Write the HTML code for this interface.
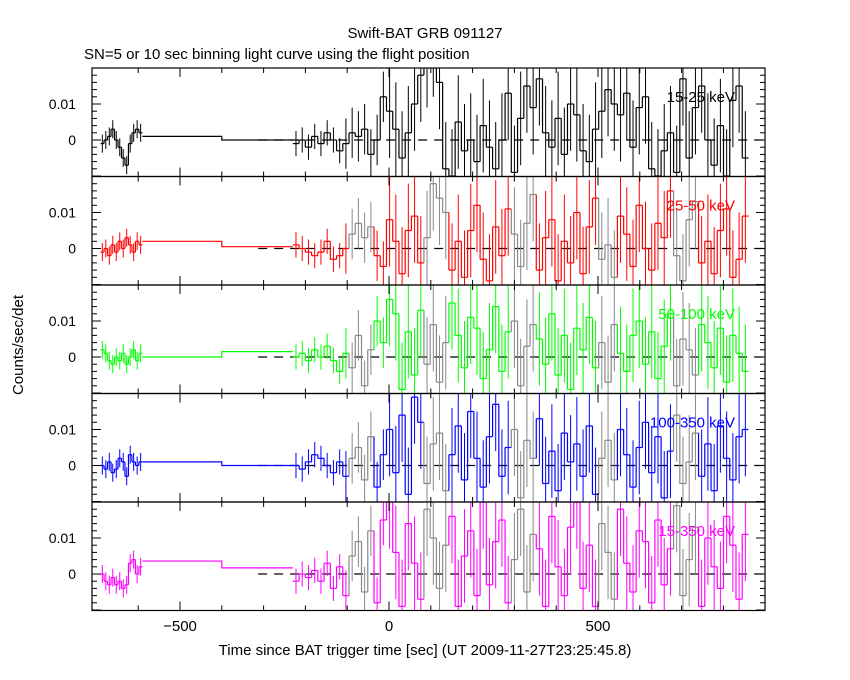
<!DOCTYPE html>
<html><head><meta charset="utf-8"><style>
body{margin:0;background:#fff;}
svg{display:block;font-family:"Liberation Sans",sans-serif;}
</style></head><body>
<svg id="c" width="850" height="680" viewBox="0 0 850 680" xmlns="http://www.w3.org/2000/svg">
<rect width="850" height="680" fill="#fff"/>
<text x="425" y="38" font-size="15" text-anchor="middle">Swift-BAT GRB 091127</text>
<text x="84" y="59" font-size="15">SN=5 or 10 sec binning light curve using the flight position</text>
<text x="425" y="655" font-size="15" text-anchor="middle">Time since BAT trigger time [sec] (UT 2009-11-27T23:25:45.8)</text>
<text x="0" y="0" font-size="15" text-anchor="middle" transform="translate(23,345) rotate(-90)">Counts/sec/det</text>
<g id="plots"></g>
</svg>
<script>
const bands=["15-25 keV","25-50 keV","50-100 keV","100-350 keV","15-350 keV"];
const colors=["#000","#f00","#0f0","#00f","#f0f"];
const leftVals=[
[-1,0,1,3,0,-2,-5,-7,-1,2,3,2],
[-1,0,-2,1,-1,2,0,3,1,-1,2,1],
[2,1,-1,-2,0,-1,1,-2,0,2,-1,1],
[0,-1,1,-2,-1,2,1,-3,3,1,0,1],
[0,-2,-3,-1,-3,-2,-4,-3,3,4,0,2]];
const flat1=[1,2,0,1,3.6];
const flat2=[0,0.5,1.5,0,1.7];
const rightVals=[
[-1,0,-2,1,-1,2,0,-3,-1,2,1,3,-4,0,12,8,3,-5,2,10,18,22,25,16,-8,-10,5,-3,0,-6,4,-2,-8,0,13,-9,6,15,9,17,2,-2,6,-4,10,7,-3,-6,3,8,14,10,7,13,-2,9,12,-8,-10,-3,2,-9,17,-5,9,15,0,-7,4,-10,11,15,-5],
[1,0,-1,-2,-1,2,-3,-2,0,4,7,3,6,-2,-5,8,2,-7,5,9,-4,3,18,14,10,-6,2,-8,5,12,-3,-9,6,-2,11,4,-5,7,15,-6,3,8,-9,2,-4,10,-7,6,14,-3,1,-8,9,4,-5,12,0,-6,7,3,16,-2,-9,8,13,-4,2,-7,5,11,-8,-3,9],
[0,1,-1,2,0,3,-1,-4,1,-3,6,-8,2,10,4,16,12,-9,7,-5,13,-2,9,-7,4,15,6,-3,11,8,-6,2,14,-4,7,10,-8,3,9,5,-2,12,-5,6,-9,8,2,11,-3,4,-7,9,1,-4,6,10,-2,7,-6,3,12,-8,5,2,-5,9,4,-3,8,-7,6,1,-4],
[0,-1,1,3,2,0,-2,1,-3,2,5,-4,8,-6,3,10,-2,14,-8,19,12,-5,6,9,-7,3,11,-4,15,2,-6,8,17,-3,5,10,-9,7,2,13,-5,4,-7,9,1,6,-3,11,-8,2,7,-4,10,3,-6,5,12,-2,8,-9,4,14,-5,1,9,-3,6,-7,11,2,-4,8,10],
[-2,0,-1,1,-2,3,-4,2,-6,5,9,-5,12,-8,15,20,6,-9,14,3,-7,18,10,-4,8,16,-9,5,12,-6,20,-3,9,15,-8,4,18,-5,11,7,-9,16,2,-6,13,20,-4,8,-9,14,6,-7,18,3,-5,12,9,-8,15,-3,7,19,-6,4,13,-9,10,2,-4,16,8,-7,11]];
const grayRanges=[[-100,-40],[80,130],[280,340],[500,545],[680,740]];
const yTicks=[0,10];
const yTickLabels=["0","0.01"];
const xTicks=[-500,0,500];

const X0=92,X1=765,TOP=68,PH=108.5;
const xs=t=>389+t*0.418;
const g=document.getElementById('plots');
const NS="http://www.w3.org/2000/svg";
function mk(tag,a,parent){const e=document.createElementNS(NS,tag);for(const k in a)e.setAttribute(k,a[k]);(parent||g).appendChild(e);return e;}
const errR=t=>t<-120?3.5:(t<-20?7:13);
for(let p=0;p<5;p++){
  const T=TOP+p*PH,B=T+PH;
  const ys=v=>T+72-v*3.6;
  const grp=mk('g',{});
  
  
  const cid='clip'+p;
  const cp=mk('clipPath',{id:cid},grp);mk('rect',{x:X0,y:T,width:X1-X0,height:PH},cp);
  const dg=mk('g',{'clip-path':'url(#'+cid+')'},grp);
  const z=mk('line',{x1:xs(-313),x2:X1,y1:ys(0),y2:ys(0),stroke:'#000','stroke-width':1.2,'stroke-dasharray':'9,7'},dg);
  
  
  const col=colors[p];
  const isGray=t=>p>0&&grayRanges.some(r=>t>=r[0]&&t<r[1]);
  function drawBins(vals,t0,t1,ef){
    const w=(t1-t0)/vals.length;
    for(let i=0;i<vals.length;i++){
      const a=t0+i*w,b=a+w,v=vals[i],c=isGray(a)?'#888':col;
      const prev=i>0?vals[i-1]:v;
      mk('line',{x1:xs(a),x2:xs(a),y1:ys(prev),y2:ys(v),stroke:c,'stroke-width':1.2},dg);
      const s=mk('line',{x1:xs(a),x2:xs(b),y1:ys(v),y2:ys(v),stroke:c,'stroke-width':1.2},dg);
      
      
      const e=ef(a),m=(a+b)/2;
      mk('line',{x1:xs(m),x2:xs(m),y1:ys(v-e),y2:ys(v+e),stroke:c,'stroke-width':1},dg);
    }
  }
  drawBins(leftVals[p],-690,-590,()=>2.5);
  mk('polyline',{points:`${xs(-590)},${ys(flat1[p])} ${xs(-400)},${ys(flat1[p])} ${xs(-400)},${ys(flat2[p])} ${xs(-230)},${ys(flat2[p])}`,fill:'none',stroke:col,'stroke-width':1.2},dg);
  drawBins(rightVals[p],-230,860,errR);
  const fr=mk('rect',{x:X0,y:T,width:X1-X0,height:PH,fill:'none',stroke:'#000','stroke-width':1.2},grp);
  
  
  for(let t=-600;t<=800;t+=100){const big=t%500===0;const L=big?9:5;
    mk('line',{x1:xs(t),x2:xs(t),y1:B,y2:B-L,stroke:'#000'},grp);
    mk('line',{x1:xs(t),x2:xs(t),y1:T,y2:T+L,stroke:'#000'},grp);}
  for(let v=-10;v<=20;v+=2){const y=ys(v);if(y<T||y>B)continue;const L=v%10===0?9:5;
    mk('line',{x1:X0,x2:X0+L,y1:y,y2:y,stroke:'#000'},grp);
    mk('line',{x1:X1,x2:X1-L,y1:y,y2:y,stroke:'#000'},grp);}
  yTicks.forEach((v,i)=>{const t=mk('text',{x:76,y:ys(v)+5,'font-size':14,'text-anchor':'end'},grp);t.textContent=yTickLabels[i];
    
    });
  const lb=mk('text',{x:735,y:T+34,'font-size':15,'text-anchor':'end',fill:col},grp);
  lb.textContent=bands[p];
  
  
}
xTicks.forEach(t=>{const e=mk('text',{x:xs(t),y:631,'font-size':15,'text-anchor':'middle'});e.textContent=String(t).replace('-','−');
  
  });
</script>
</body></html>
